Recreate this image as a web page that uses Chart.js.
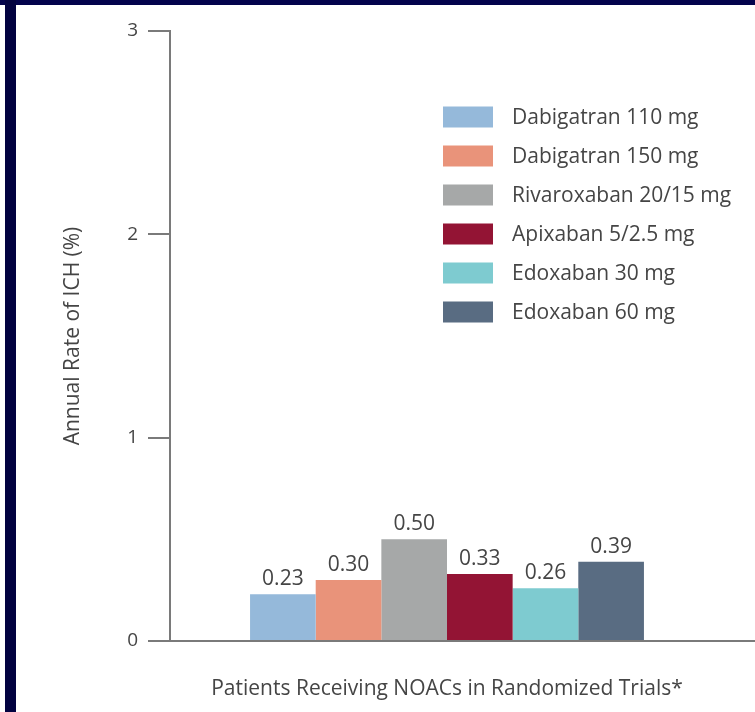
<!DOCTYPE html>
<html>
<head>
<meta charset="utf-8">
<script src="https://cdn.jsdelivr.net/npm/chart.js@4.4.1/dist/chart.umd.min.js"></script>
<style>
  html, body { margin: 0; padding: 0; background: #ffffff; }
  #wrap { position: relative; width: 755px; height: 712px; overflow: hidden; }
  #c { position: absolute; left: 0; top: 0; }
  .band-top { position: absolute; left: 0; top: 0; width: 755px; height: 5px; background: #03034c; }
  .band-left { position: absolute; left: 5px; top: 0; width: 11px; height: 712px; background: #020240; }
</style>
</head>
<body>
<div id="wrap">
  <canvas id="c" width="755" height="712"></canvas>
  <div class="band-top"></div>
  <div class="band-left"></div>
</div>
<script>
// Annual rate of intracranial haemorrhage with each NOAC regimen
const categories = ['Patients Receiving NOACs in Randomized Trials*'];
const regimens = [
  'Dabigatran 110 mg',
  'Dabigatran 150 mg',
  'Rivaroxaban 20/15 mg',
  'Apixaban 5/2.5 mg',
  'Edoxaban 30 mg',
  'Edoxaban 60 mg'
];
const ichRates = [0.23, 0.30, 0.50, 0.33, 0.26, 0.39];
const regimenColors = ['#95b9da', '#e9937a', '#a6a8a8', '#931434', '#7ecbd0', '#596c82'];
const yTicks = [0, 1, 2, 3];

const FONT = '"Open Sans", "Noto Sans", sans-serif';
const WEIGHT = '500';
const TEXT = '#454545';
const AXIS = '#7a7a7a';

const datasets = regimens.map((name, i) => ({
  label: name,
  data: [ichRates[i]],
  backgroundColor: regimenColors[i],
  borderWidth: 0,
  barPercentage: 1,
  categoryPercentage: 0.711
}));

// Value printed above every bar
const valueLabels = {
  id: 'valueLabels',
  afterDatasetsDraw(chart) {
    const ctx = chart.ctx;
    ctx.save();
    ctx.font = WEIGHT + ' 21px ' + FONT;
    ctx.fillStyle = TEXT;
    ctx.textAlign = 'center';
    ctx.textBaseline = 'alphabetic';
    chart.data.datasets.forEach((ds, i) => {
      const meta = chart.getDatasetMeta(i);
      meta.data.forEach((bar, j) => {
        ctx.fillText(ds.data[j].toFixed(2), bar.x, bar.y - 9);
      });
    });
    ctx.restore();
  }
};

// Baseline runs on past the plot to the right edge
const baselineExtension = {
  id: 'baselineExtension',
  afterDraw(chart) {
    const ctx = chart.ctx;
    const y0 = chart.scales.y.getPixelForValue(0);
    ctx.save();
    ctx.strokeStyle = AXIS;
    ctx.lineWidth = 2;
    ctx.beginPath();
    ctx.moveTo(chart.chartArea.right - 1, y0);
    ctx.lineTo(chart.width, y0);
    ctx.stroke();
    ctx.restore();
  }
};

// Legend listed inside the plot, upper right
const boxLegend = {
  id: 'boxLegend',
  afterDraw(chart) {
    const ctx = chart.ctx;
    const x0 = 443, y0 = 117, rowGap = 39, boxW = 50, boxH = 21, textGap = 19;
    ctx.save();
    ctx.font = WEIGHT + ' 21px ' + FONT;
    ctx.textAlign = 'left';
    ctx.textBaseline = 'middle';
    chart.data.datasets.forEach((ds, i) => {
      const cy = y0 + i * rowGap;
      ctx.fillStyle = ds.backgroundColor;
      ctx.fillRect(x0, cy - boxH / 2, boxW, boxH);
      ctx.fillStyle = TEXT;
      ctx.fillText(ds.label, x0 + boxW + textGap, cy + 1);
    });
    ctx.restore();
  }
};

new Chart(document.getElementById('c'), {
  type: 'bar',
  data: { labels: categories, datasets },
  options: {
    responsive: false,
    animation: false,
    layout: { padding: { left: 0, right: 31, top: 31, bottom: 0 } },
    plugins: {
      legend: { display: false },
      tooltip: { enabled: false }
    },
    scales: {
      x: {
        ticks: { display: false },
        grid: { display: false },
        border: { display: true, color: AXIS, width: 2 },
        title: {
          display: true,
          text: categories[0],
          color: TEXT,
          font: { family: FONT, size: 21, weight: WEIGHT },
          padding: { top: 0, bottom: 10 }
        },
        afterFit(scale) { scale.height = 71; }
      },
      y: {
        min: 0,
        max: 3,
        afterBuildTicks(scale) { scale.ticks = yTicks.map(v => ({ value: v })); },
        ticks: {
          color: TEXT,
          font: { family: FONT, size: 19, weight: WEIGHT },
          padding: 10,
          callback: v => String(v)
        },
        grid: {
          display: true,
          drawOnChartArea: false,
          drawTicks: true,
          tickLength: 22,
          color: AXIS,
          lineWidth: 2
        },
        border: { display: true, color: AXIS, width: 2 },
        title: {
          display: true,
          text: 'Annual Rate of ICH (%)',
          color: TEXT,
          font: { family: FONT, size: 21, weight: WEIGHT },
          padding: { top: 60, bottom: 0 }
        },
        afterFit(scale) { scale.width = 170; }
      }
    }
  },
  plugins: [valueLabels, baselineExtension, boxLegend]
});
</script>
</body>
</html>
